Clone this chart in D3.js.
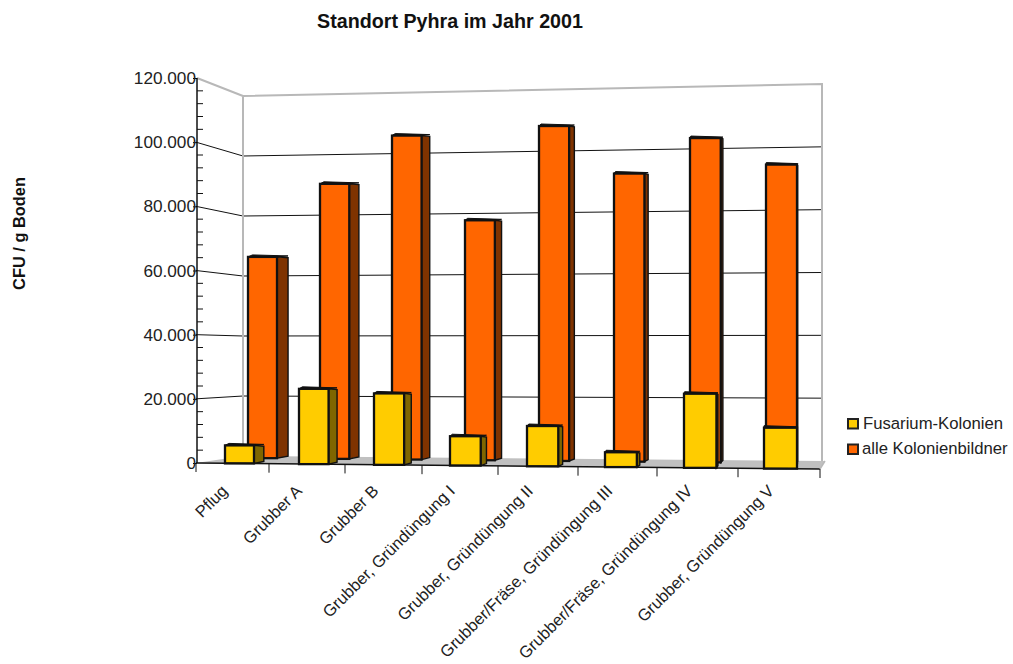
<!DOCTYPE html>
<html><head><meta charset="utf-8">
<script src="https://cdnjs.cloudflare.com/ajax/libs/d3/7.8.5/d3.min.js"></script>
<style>html,body{margin:0;background:#fff}svg{display:block;font-family:"Liberation Sans",Arial,sans-serif}</style>
</head><body><svg id="c" width="1013" height="664"></svg>
<script>
const categories = ["Pflug","Grubber A","Grubber B","Grubber, Gründüngung I","Grubber, Gründüngung II","Grubber/Fräse, Gründüngung III","Grubber/Fräse, Gründüngung IV","Grubber, Gründüngung V"];
const fusarium = [5600,23300,22000,9000,12300,4500,22400,12300];
const alle = [65800,89400,104700,77100,107000,91500,102400,93700];
const seriesNames = ["Fusarium-Kolonien","alle Kolonienbildner"];
const gridValues = [0,20000,40000,60000,80000,100000,120000];
const minorValues = d3.range(0,120001,4000);
const fmt = d3.formatLocale({decimal:",",thousands:".",grouping:[3],currency:["","€"]}).format(",d");
const svg = d3.select("#c");

// Perspective frame: vertical scales on the left and right edges of each plane
const frontL = d3.scaleLinear([0,120000],[463,78]);
const frontR = d3.scaleLinear([0,120000],[469,69]);
const backL = d3.scaleLinear([0,120000],[456,96]);
const backR = d3.scaleLinear([0,120000],[461,84]);
const midL = d3.scaleLinear([0,120000],[458,91.5]);
const midR = d3.scaleLinear([0,120000],[463.5,80]);
const frontX = d3.scaleLinear([0,1,2,3,4,5,6,7,8],[196,269,345,422,498,578,657,738,820]);
const frontEdge = [196,820], backEdge = [243,822];
const yOn = (L,R,edge,x,v)=>{const t=(x-edge[0])/(edge[1]-edge[0]);return L(v)*(1-t)+R(v)*t;};
const yFront = (x,v)=>yOn(frontL,frontR,frontEdge,x,v);
const yMid = (x,v)=>yOn(midL,midR,backEdge,x,v);

// Bar left edges for each series, one row near the front, one further back
const xFus = d3.scaleLinear(d3.range(8),[225,299,374,450,527,605,684,764]);
const xAll = d3.scaleLinear(d3.range(8),[248,320,392,465,539,614,690,766]);
const wFus = d3.scaleLinear([0,7],[29,33]);
const wAll = d3.scaleLinear([0,7],[29,31]);

const grey = "#b8b8b8";
// Floor
svg.append("polygon").attr("fill","#c0c0c0")
 .attr("points",[[frontEdge[0],frontL(0)],[backEdge[0],backL(0)],[825,backR(0)],[frontEdge[1],frontR(0)]].join(" "));

// Gridlines across the back wall and the left wall
const grid = svg.append("g").attr("stroke","#111").attr("stroke-width",1).attr("fill","none");
gridValues.slice(1,-1).forEach(v=>{
  grid.append("path").attr("d",d3.line()([[frontEdge[0],frontL(v)],[backEdge[0],backL(v)],[backEdge[1],backR(v)]]));
});
// Wall outline
svg.append("path").attr("fill","none").attr("stroke",grey).attr("stroke-width",2)
 .attr("d",d3.line()([[frontEdge[0]+1,frontL(120000)],[backEdge[0],backL(120000)],[backEdge[0],backL(0)]]));
svg.append("path").attr("fill","none").attr("stroke",grey).attr("stroke-width",2)
 .attr("d",d3.line()([[backEdge[0],backL(120000)],[backEdge[1],backR(120000)],[backEdge[1],backR(0)]]));

// One three-sided column
function bar(g,x,w,base,top,k,vx,face,side){
  const d=(vx-(x+w))*k, rise=2;
  g.append("polygon").attr("fill",side).attr("stroke","#111").attr("stroke-width",1.4)
   .attr("points",[[x+w,top],[x+w+d,top+rise*0.4],[x+w+d,base-2],[x+w,base]].join(" "));
  g.append("polygon").attr("fill","#111").attr("stroke","#111").attr("stroke-width",1)
   .attr("points",[[x,top],[x+d*0.4,top-rise],[x+w+d,top-rise+1],[x+w,top]].join(" "));
  g.append("rect").attr("x",x).attr("y",top).attr("width",w).attr("height",base-top)
   .attr("fill",face).attr("stroke","#111").attr("stroke-width",2.3);
}
const back = svg.append("g"), front = svg.append("g");
alle.forEach((v,i)=>{
  const x=xAll(i), w=wAll(i);
  bar(back,x,w,yMid(x+w/2,0),yMid(x+w/2,v),0.02,830,"#ff6600","#7f3300");
});
fusarium.forEach((v,i)=>{
  const x=xFus(i), w=wFus(i);
  bar(front,x,w,yFront(x+w/2,0),yFront(x+w/2,v),0.018,800,"#ffcc00","#7f6600");
});

// Value axis with minor ticks on the inner side
const axis = svg.append("g").attr("transform","translate(197,0)")
 .call(d3.axisLeft(frontL).tickValues(gridValues).tickFormat(fmt).tickSize(4).tickPadding(-3));
axis.select(".domain").attr("stroke","#111").attr("stroke-width",1.5).attr("d",`M0,${frontL(120000)}V${frontL(0)}`);
axis.selectAll("text").attr("font-size",17.2).attr("fill","#222").attr("font-family","inherit");
axis.selectAll(".minor").data(minorValues.filter(v=>v%20000)).enter().append("line").attr("class","minor")
 .attr("stroke","#111").attr("x1",0).attr("x2",6).attr("y1",frontL).attr("y2",frontL);

// Category axis along the slanted front edge of the floor
svg.append("line").attr("stroke","#111").attr("stroke-width",1.5)
 .attr("x1",frontEdge[0]).attr("y1",frontL(0)).attr("x2",frontEdge[1]).attr("y2",frontR(0));
svg.append("line").attr("stroke",grey).attr("stroke-width",1.5)
 .attr("x1",frontEdge[1]).attr("y1",frontR(0)).attr("x2",825).attr("y2",backR(0));
svg.append("g").selectAll("line").data(frontX.domain()).enter().append("line")
 .attr("stroke","#111").attr("stroke-width",1)
 .attr("x1",frontX).attr("x2",frontX)
 .attr("y1",i=>yFront(frontX(i),0)).attr("y2",i=>yFront(frontX(i),0)+9);

svg.append("g").selectAll("text").data(categories).enter().append("text")
 .attr("font-size",16.5).attr("fill","#222").attr("text-anchor","end")
 .attr("transform",(d,i)=>`translate(${frontX(i+0.5)-4},492) rotate(-45)`)
 .text(d=>d);

// Title and value-axis caption
svg.append("text").attr("x",450).attr("y",28).attr("text-anchor","middle").attr("font-size",19.7).attr("font-weight","bold").attr("fill","#111").text("Standort Pyhra im Jahr 2001");
svg.append("text").attr("transform","translate(25,233.5) rotate(-90)").attr("text-anchor","middle").attr("font-size",16.4).attr("font-weight","bold").attr("fill","#111").text("CFU / g Boden");

// Legend
const lg = svg.append("g").selectAll("g").data(seriesNames).enter().append("g").attr("transform",(d,i)=>`translate(848,${419+i*25.5})`);
lg.append("rect").attr("width",10).attr("height",9.5).attr("fill",(d,i)=>i?"#ff6600":"#ffcc00").attr("stroke","#222").attr("stroke-width",2);
lg.append("text").attr("x",(d,i)=>15-i).attr("y",9.5).attr("font-size",16.7).attr("fill","#222").text(d=>d);
</script></body></html>
